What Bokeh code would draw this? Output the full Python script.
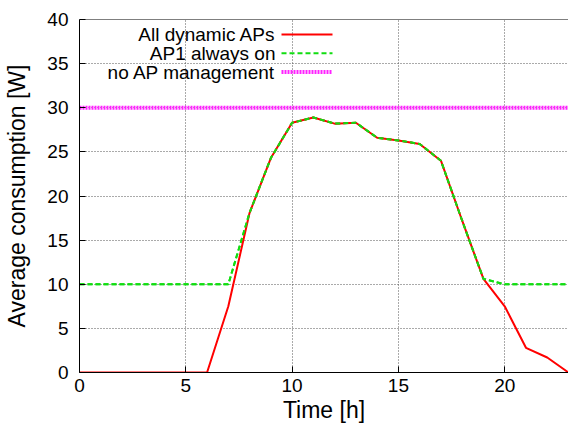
from bokeh.plotting import figure
from bokeh.models import (Range1d, FixedTicker, Label, Arrow, Span, ColumnDataSource)
from bokeh.embed import file_html
from bokeh.resources import INLINE

# ---- data ----
hours = [0, 1, 2, 3, 4, 5, 6, 7, 8, 9, 10, 11, 12, 13, 14, 15, 16, 17, 18, 19, 20, 21, 22, 23]
all_dynamic = [0, 0, 0, 0, 0, 0, 0, 7.5, 18.1, 24.3, 28.3, 28.9, 28.2, 28.3, 26.6, 26.3,
               25.9, 24.0, 17.2, 10.6, 7.5, 2.8, 1.7, 0]
ap1_always_on = [10, 10, 10, 10, 10, 10, 10, 10, 18.1, 24.3, 28.3, 28.9, 28.2, 28.3, 26.6,
                 26.3, 25.9, 24.0, 17.2, 10.6, 10, 10, 10, 10]
no_management = [30, 30, 30, 30, 30, 30, 30, 30, 30, 30, 30, 30, 30, 30, 30, 30, 30, 30,
                 30, 30, 30, 30, 30, 30]
series_names = ["All dynamic APs", "AP1 always on", "no AP management"]
x_ticks = [0, 5, 10, 15, 20]
y_ticks = [0, 5, 10, 15, 20, 25, 30, 35, 40]

FONT = "Liberation Sans"
RED, GREEN, MAGENTA = "#ff0000", "#11dd11", "#ff22ff"

src = ColumnDataSource(dict(h=hours, a=all_dynamic, b=ap1_always_on, c=no_management))

p = figure(width=568, height=426, output_backend="svg", toolbar_location=None,
           x_range=Range1d(0, 23), y_range=Range1d(0, 40),
           min_border_left=79, min_border_right=0, min_border_top=19, min_border_bottom=54,
           x_axis_label="Time [h]", y_axis_label="Average consumption [W]")
p.outline_line_color = None
p.background_fill_color = "white"

for ax in (p.xaxis[0], p.yaxis[0]):
    ax.axis_line_color = "black"
    ax.axis_line_width = 1
    ax.major_tick_in = 6
    ax.major_tick_out = 0
    ax.minor_tick_in = 0
    ax.minor_tick_out = 0
    ax.major_tick_line_color = "black"
    ax.major_label_text_font = FONT
    ax.major_label_text_font_size = "19px"
    ax.major_label_text_color = "black"
    ax.axis_label_text_font = FONT
    ax.axis_label_text_font_size = "23px"
    ax.axis_label_text_font_style = "normal"
    ax.axis_label_text_color = "black"

p.xaxis[0].ticker = FixedTicker(ticks=x_ticks)
p.yaxis[0].ticker = FixedTicker(ticks=y_ticks)
p.xaxis[0].major_label_standoff = 6
p.xaxis[0].axis_label_standoff = 2
p.yaxis[0].major_label_standoff = 11
p.yaxis[0].axis_label_standoff = 14

# top border of the frame
p.add_layout(Span(location=40, dimension="width", line_color="black", line_width=1))

p.xgrid.ticker = FixedTicker(ticks=x_ticks)
p.ygrid.ticker = FixedTicker(ticks=y_ticks)
for g in (p.xgrid[0], p.ygrid[0]):
    g.grid_line_color = "#555555"
    g.grid_line_dash = "1 2"
    g.grid_line_width = 1

p.line("h", "c", source=src, line_color=MAGENTA, line_width=4, line_dash="2 1")
p.line("h", "b", source=src, line_color=GREEN, line_width=2, line_dash="5 3")
p.line("h", "a", source=src, line_color=RED, line_width=2)
# green dashes over the red where both coincide, as in the reference
p.line("h", "b", source=src, line_color=GREEN, line_width=2, line_dash="5 3")

# legend (text right-aligned, key to its right), in screen units of the frame
key_styles = [dict(line_color=RED, line_width=2, line_dash="solid"),
              dict(line_color=GREEN, line_width=2, line_dash="5 3"),
              dict(line_color=MAGENTA, line_width=4, line_dash="2 1")]
for i, name in enumerate(series_names):
    yy = 338 - 18.8 * i
    p.add_layout(Label(x=196, y=yy, x_units="screen", y_units="screen",
                       text=name, text_align="right", text_baseline="middle",
                       text_font=FONT, text_font_size="19px", text_color="black"))
    p.add_layout(Arrow(x_start=202, y_start=yy, x_end=253, y_end=yy,
                       start_units="screen", end_units="screen", start=None, end=None,
                       **key_styles[i]))

open("out.html", "w").write(file_html(p, INLINE))
